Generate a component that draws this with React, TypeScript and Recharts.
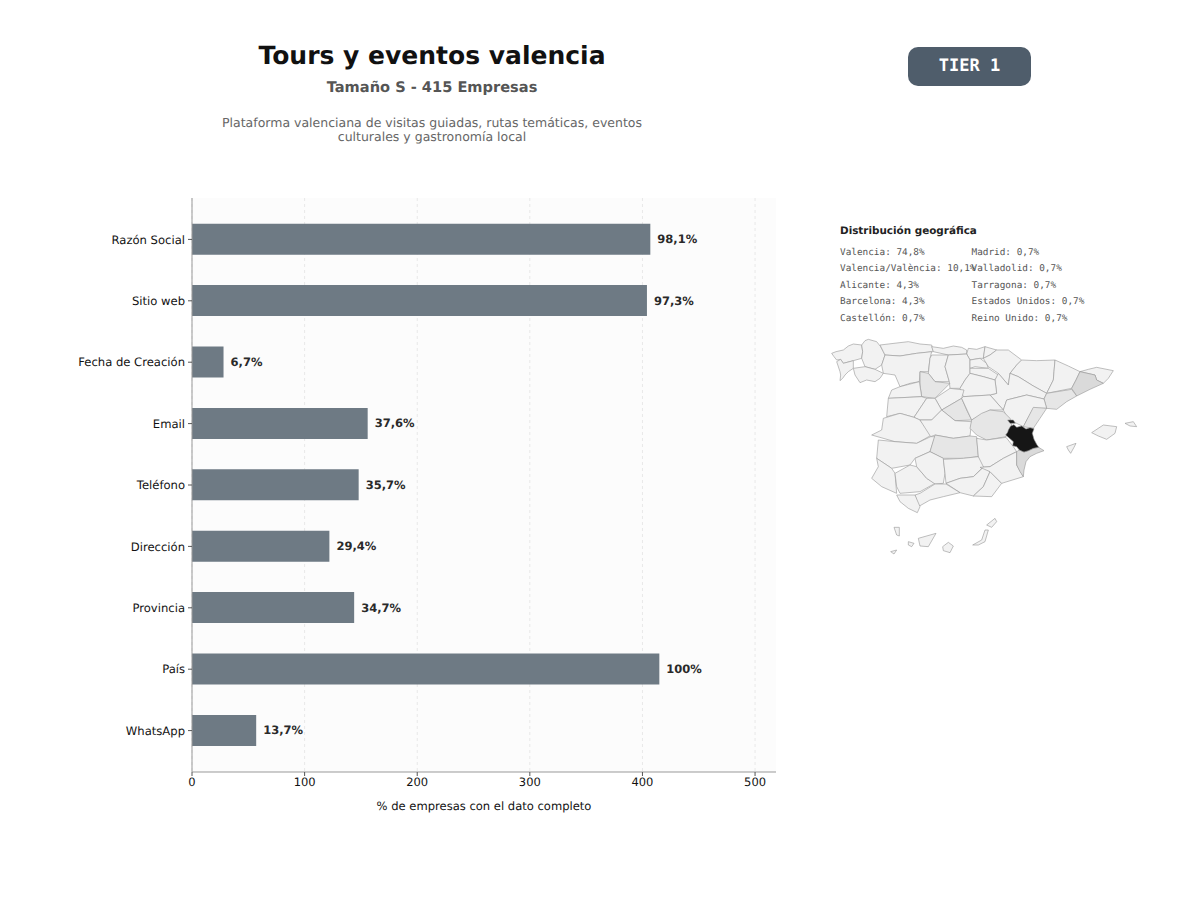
import React from 'react';
import { BarChart, Bar, XAxis, YAxis, CartesianGrid, LabelList } from 'recharts';

const categories = ['Razón Social', 'Sitio web', 'Fecha de Creación', 'Email', 'Teléfono', 'Dirección', 'Provincia', 'País', 'WhatsApp'];
const companyCounts = [407, 404, 28, 156, 148, 122, 144, 415, 57];
const percentLabels = ['98,1%', '97,3%', '6,7%', '37,6%', '35,7%', '29,4%', '34,7%', '100%', '13,7%'];
const xTicks = [0, 100, 200, 300, 400, 500];

const geoLeft = ['Valencia: 74,8%', 'Valencia/València: 10,1%', 'Alicante: 4,3%', 'Barcelona: 4,3%', 'Castellón: 0,7%'];
const geoRight = ['Madrid: 0,7%', 'Valladolid: 0,7%', 'Tarragona: 0,7%', 'Estados Unidos: 0,7%', 'Reino Unido: 0,7%'];

const data = categories.map((name, i) => ({ name, count: companyCounts[i], label: percentLabels[i] }));

const SANS = '"DejaVu Sans", sans-serif';
const MONO = '"DejaVu Sans Mono", monospace';

const BASE = '#f2f2f2';
const MID = '#e6e6e6';
const DARK = '#dadada';

// traced outlines of the provinces, drawn as a backdrop only
const provinces: [string, string][] = [
  [BASE, '35,70 48,65 70,60 85,48 100,42 125,45 128,65 125,85 100,92 70,100 62,88 50,90 42,80'],
  [BASE, '125,45 135,32 145,28 170,35 182,50 190,65 195,75 185,105 165,118 135,110 125,85 128,65'],
  [BASE, '50,95 62,88 70,100 100,92 100,115 85,125 75,135 68,145 60,152 62,135 60,125'],
  [BASE, '100,115 135,110 165,118 190,130 180,145 165,155 140,150 120,158 105,135'],
  [BASE, '180,45 222,40 265,35 300,42 335,45 340,65 290,70 240,78 195,75 190,65'],
  [BASE, '335,50 370,55 400,48 425,52 440,60 440,72 385,75 340,65'],
  [BASE, '445,55 470,58 495,50 490,85 480,85 450,90 440,72'],
  [BASE, '495,50 530,60 510,75 490,85'],
  [BASE, '195,75 240,78 290,70 335,65 330,85 325,125 300,125 298,155 270,160 240,170 225,135 190,130 185,105'],
  [BASE, '335,75 385,75 375,110 388,155 345,155 325,130 330,85'],
  [BASE, '385,75 440,72 450,90 450,130 435,150 420,175 390,175 388,155 375,110'],
  [BASE, '450,90 480,85 500,100 505,115 465,110 450,115'],
  [BASE, '450,115 505,115 535,135 525,150 490,140 450,130'],
  [BASE, '530,60 565,60 585,75 605,90 590,105 570,130 565,165 535,130 505,110 490,85 510,75'],
  [BASE, '605,90 650,92 705,90 702,125 700,150 680,190 640,168 595,140 570,130 590,105'],
  [BASE, '570,130 595,140 640,168 680,190 672,207 620,195 560,210 550,240 510,195 530,190 525,150 535,130 565,165'],
  [BASE, '705,90 745,108 780,125 768,150 755,175 680,190 700,150 702,125'],
  [BASE, '780,125 805,118 830,112 880,122 865,145 850,160 830,150 825,135'],
  [DARK, '780,125 825,135 830,150 850,160 810,178 770,198 755,175 768,150'],
  [MID, '755,178 770,198 740,215 710,238 680,235 672,207 680,190'],
  [BASE, '435,150 450,130 490,140 525,150 530,190 510,195 430,200 420,175'],
  [MID, '300,125 325,130 345,155 390,160 345,205 305,200 300,165'],
  [BASE, '345,205 390,175 432,180 425,205 365,240'],
  [BASE, '240,170 298,155 305,200 205,205 215,180'],
  [MID, '425,205 440,240 455,270 405,272 365,240'],
  [BASE, '430,200 510,195 550,240 510,240 455,270 425,205'],
  [BASE, '550,240 560,210 620,195 672,207 680,235 640,235 610,290 580,275 565,268'],
  [BASE, '205,205 305,200 320,205 282,262 240,250 200,260'],
  [BASE, '320,205 345,205 365,240 335,270 300,270 282,262'],
  [BASE, '190,265 240,250 282,262 300,270 335,315 290,340 225,335 155,315 185,300'],
  [BASE, '300,270 335,270 365,240 405,272 455,275 450,318 400,325 345,315 332,320'],
  [MID, '455,270 485,250 510,240 550,245 570,265 575,285 558,320 500,330 470,315 450,295'],
  [BASE, '175,330 225,335 290,340 332,320 345,320 330,365 285,385 270,405 215,415 170,385'],
  [MID, '345,315 400,325 450,318 470,320 475,380 430,385 370,385 330,365'],
  [BASE, '470,325 500,330 558,322 580,350 590,365 550,385 510,410 480,412 475,380'],
  [BASE, '170,385 215,415 225,430 230,490 185,470 155,445 175,410'],
  [BASE, '225,430 270,405 290,410 320,445 345,460 300,485 240,490 230,470'],
  [BASE, '285,385 330,365 370,385 375,430 370,460 345,462 320,445 290,410'],
  [BASE, '370,388 430,385 475,380 490,410 460,440 420,445 378,460 375,430'],
  [BASE, '378,460 420,445 460,440 490,412 510,425 490,470 460,498 420,488'],
  [BASE, '510,425 545,460 530,480 515,500 460,498 490,470'],
  [BASE, '480,412 510,410 550,385 590,365 590,405 610,440 545,460 510,425'],
  [MID, '640,232 680,235 660,265 640,295 610,290'],
  [DARK, '590,365 598,360 612,366 625,362 640,355 656,352 672,362 650,370 630,380 618,395 612,420 610,440 600,425 590,405'],
  [BASE, '300,490 345,462 378,462 420,488 370,500 330,510 295,530 285,495'],
  [BASE, '230,495 285,495 300,530 292,548 265,535 240,515'],
  ['#141414', '565,300 572,288 582,284 590,292 605,288 618,297 630,293 642,296 637,310 642,328 650,343 656,352 640,355 625,362 612,366 598,360 590,350 578,347 580,335 565,322 557,315 563,307'],
  ['#141414', '563,270 580,270 586,280 570,280'],
  [BASE, '815,308 850,285 890,290 885,310 860,328 835,318'],
  [BASE, '915,280 940,275 950,290 930,288'],
  [BASE, '740,350 768,340 762,352 752,370 745,360'],
  [BASE, '295,625 348,610 325,650 300,648'],
  [BASE, '222,592 238,592 238,618 230,615'],
  [BASE, '265,635 282,640 275,650 265,645'],
  [BASE, '368,650 385,637 400,648 390,668 370,662'],
  [BASE, '212,665 230,660 222,672'],
  [BASE, '458,645 485,630 495,600 505,600 495,635 475,645'],
  [BASE, '500,585 525,565 530,575 515,592'],
];

const centred = (top: number, size: number, color: string, weight: number): React.CSSProperties => ({
  position: 'absolute', left: 132, width: 600, top, textAlign: 'center',
  fontFamily: SANS, fontSize: size, color, fontWeight: weight, lineHeight: 1, whiteSpace: 'nowrap',
});

const geoLine = (left: number, top: number): React.CSSProperties => ({
  position: 'absolute', left, top, fontFamily: MONO, fontSize: 9.4, color: '#555', lineHeight: 1, whiteSpace: 'nowrap',
});

export default function App() {
  return (
    <div style={{ position: 'absolute', left: 0, top: 0, width: 1200, height: 900, background: '#fff', overflow: 'hidden', textRendering: 'geometricPrecision' }}>
      <div style={centred(43, 25, '#111', 700)}>Tours y eventos valencia</div>
      <div style={centred(81, 14.6, '#555', 700)}>Tamaño S - 415 Empresas</div>
      <div style={centred(117, 12.5, '#666', 400)}>Plataforma valenciana de visitas guiadas, rutas temáticas, eventos</div>
      <div style={centred(131, 12.5, '#666', 400)}>culturales y gastronomía local</div>

      <div style={{
        position: 'absolute', left: 908, top: 47, width: 123, height: 39, borderRadius: 10, background: '#4f5d6b',
        color: '#fff', fontFamily: MONO, fontWeight: 700, fontSize: 17, lineHeight: '39px', textAlign: 'center',
      }}>
        TIER 1
      </div>

      <div style={{ position: 'absolute', left: 0, top: 0 }}>
        <BarChart
          width={800}
          height={850}
          layout="vertical"
          data={data}
          margin={{ top: 198, right: 24, bottom: 28, left: 0 }}
        >
          <CartesianGrid horizontal={false} vertical verticalValues={xTicks} strokeDasharray="3 3" stroke="#e8e8e8" fill="#fcfcfc" />
          <XAxis
            type="number"
            domain={[0, 518.6]}
            ticks={xTicks}
            height={50}
            axisLine={{ stroke: '#999' }}
            tickLine={{ stroke: '#555' }}
            tickSize={4}
            tick={{ fill: '#111', fontSize: 11.5, fontFamily: SANS }}
            label={{ value: '% de empresas con el dato completo', position: 'insideBottom', offset: 12, fill: '#111', fontSize: 11.55, fontFamily: SANS }}
          />
          <YAxis
            type="category"
            dataKey="name"
            width={192}
            padding={{ top: 10.7, bottom: 10.7 }}
            axisLine={{ stroke: '#999' }}
            tickLine={{ stroke: '#555' }}
            tickSize={4}
            tickMargin={3}
            tick={{ fill: '#111', fontSize: 11.6, fontFamily: SANS }}
            interval={0}
          />
          <Bar dataKey="count" fill="#6e7a84" barSize={31} isAnimationActive={false}>
            <LabelList dataKey="label" position="right" offset={7} fill="#2a2a2a" fontSize={11.5} fontWeight={700} fontFamily={SANS} />
          </Bar>
        </BarChart>
      </div>

      <div style={{ position: 'absolute', left: 840, top: 225.5, fontFamily: SANS, fontWeight: 700, fontSize: 10.4, color: '#222', lineHeight: 1, whiteSpace: 'nowrap' }}>
        Distribución geográfica
      </div>
      {geoLeft.map((t, i) => <div key={t} style={geoLine(840, 248 + i * 16.4)}>{t}</div>)}
      {geoRight.map((t, i) => <div key={t} style={geoLine(971.5, 248 + i * 16.4)}>{t}</div>)}

      <svg width={330} height={235} viewBox="0 0 990 705" style={{ position: 'absolute', left: 820, top: 330 }}>
        <defs>
          <filter id="soft"><feGaussianBlur stdDeviation="0.7" /></filter>
        </defs>
        <g filter="url(#soft)">
          {provinces.map(([fill, points], i) => (
            <polygon key={i} points={points} fill={fill} stroke="#969696" strokeWidth={1.8} strokeLinejoin="round" />
          ))}
        </g>
      </svg>
    </div>
  );
}
